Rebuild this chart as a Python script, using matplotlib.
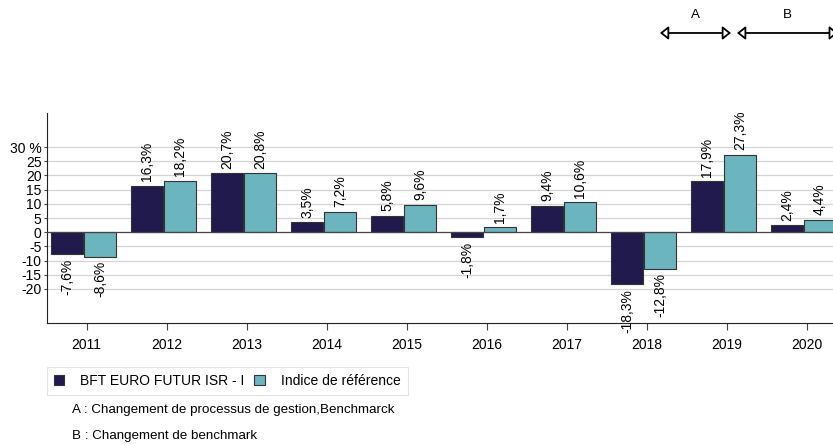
import numpy as np
import matplotlib.pyplot as plt
from matplotlib.patches import FancyArrowPatch
import matplotlib.transforms as mtransforms

plt.rcParams['font.family'] = ['Liberation Sans', 'DejaVu Sans']

years = ['2011', '2012', '2013', '2014', '2015', '2016', '2017', '2018', '2019', '2020']
fonds = [-7.6, 16.3, 20.7, 3.5, 5.8, -1.8, 9.4, -18.3, 17.9, 2.4]
indice = [-8.6, 18.2, 20.8, 7.2, 9.6, 1.7, 10.6, -12.8, 27.3, 4.4]
yticks = [-20, -15, -10, -5, 0, 5, 10, 15, 20, 25, 30]
ytick_labels = ['-20', '-15', '-10', '-5', '0', '5', '10', '15', '20', '25', '30 %']

navy = '#211a4c'
teal = '#6cb5bf'
fs = 10

fig = plt.figure(figsize=(8.33, 4.45), dpi=100)
ax = fig.add_axes([47/833, 1-323/445, 800/833, 210/445])

x = np.arange(len(years))
w = 0.4
off = 0.205
ax.bar(x - off, fonds, w, color=navy, edgecolor='#333333', linewidth=0.8, zorder=3)
ax.bar(x + off, indice, w, color=teal, edgecolor='#333333', linewidth=0.8, zorder=3)

# value labels
for xs, vals in ((x - off, fonds), (x + off, indice)):
    for xi, v in zip(xs, vals):
        txt = ('%.1f%%' % v).replace('.', ',')
        if v >= 0:
            ax.text(xi, v + 1.6, txt, rotation=90, ha='center', va='bottom', fontsize=fs)
        else:
            ax.text(xi, v - 1.6, txt, rotation=90, ha='center', va='top', fontsize=fs)

ax.set_xlim(-0.456, 9.544)
ax.set_ylim(-32, 42)
ax.set_yticks(yticks)
ax.set_yticklabels(ytick_labels, fontsize=fs)
ax.set_xticks(x + 0.04)
ax.set_xticklabels(years, fontsize=fs)
for g in yticks:
    ax.axhline(g, color='#d4d4d4' if g != 0 else '#444444', linewidth=0.9, zorder=1 if g != 0 else 4)
ax.spines['top'].set_visible(False)
ax.spines['right'].set_visible(False)
ax.spines['left'].set_color('#222222')
ax.spines['bottom'].set_color('#222222')
ax.tick_params(axis='y', length=2, pad=2, color='#444444')
ax.tick_params(axis='x', length=5, pad=6, color='#444444')

# period markers
trans = mtransforms.blended_transform_factory(ax.transData, ax.transAxes)
periods = [('A', 7.206, 8.094), ('B', 8.169, 9.43)]
for lab, x0, x1 in periods:
    arr = FancyArrowPatch((x0, 1.381), (x1, 1.381), transform=trans,
                          arrowstyle='<|-|>,head_length=5,head_width=4',
                          facecolor='white', edgecolor='black', linewidth=1.3,
                          shrinkA=0, shrinkB=0, clip_on=False)
    ax.add_patch(arr)
    ax.text((x0 + x1) / 2, 1.467, lab, transform=trans, ha='center', va='center', fontsize=9.6)

# legend
h1 = plt.Rectangle((0, 0), 1, 1, facecolor=navy, edgecolor='#333333', linewidth=0.8)
h2 = plt.Rectangle((0, 0), 1, 1, facecolor=teal, edgecolor='#333333', linewidth=0.8)
leg = fig.legend([h1, h2], ['BFT EURO FUTUR ISR - I', 'Indice de référence'],
                 loc='upper left', bbox_to_anchor=(47/833, 1-367/445), ncol=2,
                 fontsize=10, frameon=True, fancybox=False, handlelength=0.75,
                 handleheight=0.75, handletextpad=1.15, columnspacing=0.7,
                 borderpad=0.5, borderaxespad=0)
leg.get_frame().set_edgecolor('#dddddd')
leg.get_frame().set_linewidth(0.8)

fig.text(72/833, 1-410/445, 'A : Changement de processus de gestion,Benchmarck', fontsize=9.6, va='center')
fig.text(72/833, 1-436/445, 'B : Changement de benchmark', fontsize=9.6, va='center')

fig.savefig('out.png', dpi=100)
